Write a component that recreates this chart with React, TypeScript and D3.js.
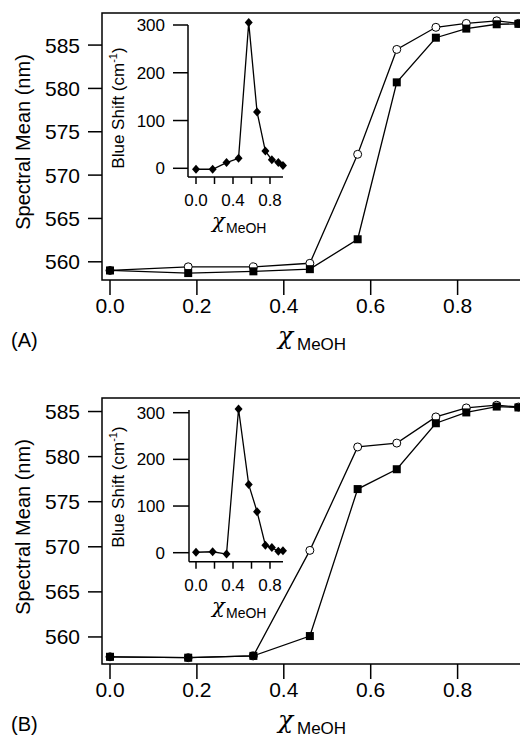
import React from 'react';
import * as d3 from 'd3';

const xValues = [0, 0.18, 0.33, 0.46, 0.57, 0.66, 0.75, 0.82, 0.89, 0.94];
const aCircles = [559.0, 559.42, 559.42, 559.83, 572.4, 584.5, 587.05, 587.5, 587.8, 587.5];
const aSquares = [559.0, 558.7, 558.9, 559.15, 562.6, 580.7, 585.85, 586.9, 587.4, 587.45];
const aInset = [-2, -2, 12, 21, 305, 118, 36, 18, 12, 6];
const bCircles = [557.8, 557.7, 557.9, 569.6, 581.07, 581.5, 584.4, 585.4, 585.7, 585.5];
const bSquares = [557.8, 557.7, 557.9, 560.1, 576.4, 578.6, 583.7, 584.9, 585.55, 585.45];
const bInset = [1, 2, -3, 308, 146, 88, 16, 11, 3, 4];

const mainXTicks = [0, 0.2, 0.4, 0.6, 0.8];
const mainYTicks = [560, 565, 570, 575, 580, 585];
const insetXTicks = [0, 0.2, 0.4, 0.6, 0.8];
const insetXLabels = [0, 0.4, 0.8];
const insetYTicks = [0, 100, 200, 300];

const FONT = "'Liberation Sans', Arial, Helvetica, sans-serif";
const GREEK = "'DejaVu Serif', 'Liberation Serif', serif";

type PanelProps = {
  top: number;
  bottom: number;
  yDomain: [number, number];
  circles: number[];
  squares: number[];
  inset: number[];
  insetTop: number;
  insetBottom: number;
  insetZeroY: number;
  insetTopY: number;
  insetAxisX: number;
  label: string;
  titleY: number;
  insetTitleY: number;
};

function Panel(p: PanelProps) {
  const x = d3.scaleLinear().domain([0, 1]).range([110, 544.5]);
  const y = d3.scaleLinear().domain(p.yDomain).range([p.bottom, p.top]);
  const ix = d3.scaleLinear().domain([0, 1]).range([196, 288.5]);
  const iy = d3.scaleLinear().domain([0, 300]).range([p.insetZeroY, p.insetTopY]);

  const line = d3.line<number>().x((_, i) => x(xValues[i])).y((d) => y(d));
  const iline = d3.line<number>().x((_, i) => ix(xValues[i])).y((d) => iy(d));
  const frameLeft = 102;
  const frameRight = 530;
  const sq = 8;
  const dm = 4;

  return (
    <g>
      <rect x={frameLeft} y={p.top} width={frameRight - frameLeft} height={p.bottom - p.top}
        fill="none" stroke="#000" strokeWidth={1.5} />
      {mainYTicks.map((t) => (
        <g key={'y' + t}>
          <line x1={88} x2={frameLeft} y1={y(t)} y2={y(t)} stroke="#000" strokeWidth={1.5} />
          <text x={80} y={y(t) + 7.5} textAnchor="end" fontSize={21} fontFamily={FONT}>{t}</text>
        </g>
      ))}
      {mainXTicks.map((t) => (
        <g key={'x' + t}>
          <line x1={x(t)} x2={x(t)} y1={p.bottom} y2={p.bottom + 15} stroke="#000" strokeWidth={1.5} />
          <text x={x(t)} y={p.bottom + 33} textAnchor="middle" fontSize={21} fontFamily={FONT}>{d3.format('.1f')(t)}</text>
        </g>
      ))}
      <text transform={`translate(30,${p.titleY}) rotate(-90)`} textAnchor="middle" fontSize={20} fontFamily={FONT}>
        Spectral Mean (nm)
      </text>
      <text x={278} y={p.bottom + 64} fontSize={25} fontStyle="italic" fontFamily={GREEK}>χ</text>
      <text x={297} y={p.bottom + 70} fontSize={17} fontFamily={FONT}>MeOH</text>
      <text x={11} y={p.bottom + 67} fontSize={20} fontFamily={FONT}>{p.label}</text>

      <path d={line(p.circles) || ''} fill="none" stroke="#000" strokeWidth={1.3} />
      <path d={line(p.squares) || ''} fill="none" stroke="#000" strokeWidth={1.3} />
      {p.circles.map((v, i) => (
        <circle key={'c' + i} cx={x(xValues[i])} cy={y(v)} r={4} fill="#fff" stroke="#000" strokeWidth={1} />
      ))}
      {p.squares.map((v, i) => (
        <rect key={'s' + i} x={x(xValues[i]) - sq / 2} y={y(v) - sq / 2} width={sq} height={sq} fill="#000" />
      ))}

      <line x1={p.insetAxisX} x2={p.insetAxisX} y1={p.insetTop} y2={p.insetBottom} stroke="#000" strokeWidth={1.5} />
      <line x1={p.insetAxisX} x2={283} y1={p.insetBottom} y2={p.insetBottom} stroke="#000" strokeWidth={1.5} />
      {insetYTicks.map((t) => (
        <g key={'iy' + t}>
          <line x1={173} x2={p.insetAxisX} y1={iy(t)} y2={iy(t)} stroke="#000" strokeWidth={1.5} />
          <text x={165} y={iy(t) + 6} textAnchor="end" fontSize={17} fontFamily={FONT}>{t}</text>
        </g>
      ))}
      {insetXTicks.map((t) => (
        <line key={'ix' + t} x1={ix(t)} x2={ix(t)} y1={p.insetBottom} y2={p.insetBottom + 7} stroke="#000" strokeWidth={1.5} />
      ))}
      {insetXLabels.map((t) => (
        <text key={'ixl' + t} x={ix(t)} y={p.insetBottom + 29} textAnchor="middle" fontSize={17} fontFamily={FONT}>
          {d3.format('.1f')(t)}
        </text>
      ))}
      <text transform={`translate(124,${p.insetTitleY}) rotate(-90)`} textAnchor="middle" fontSize={17} fontFamily={FONT}>
        <tspan>Blue Shift (cm</tspan>
        <tspan dy={-7} fontSize={11}>-1</tspan>
        <tspan dy={7}>)</tspan>
      </text>
      <text x={212} y={p.insetBottom + 51} fontSize={21} fontStyle="italic" fontFamily={GREEK}>χ</text>
      <text x={226} y={p.insetBottom + 56} fontSize={14} fontFamily={FONT}>MeOH</text>

      <path d={iline(p.inset) || ''} fill="none" stroke="#000" strokeWidth={1.3} />
      {p.inset.map((v, i) => {
        const cx = ix(xValues[i]);
        const cy = iy(v);
        return (
          <polygon key={'d' + i}
            points={`${cx},${cy - dm - 0.5} ${cx + dm},${cy} ${cx},${cy + dm + 0.5} ${cx - dm},${cy}`}
            fill="#000" />
        );
      })}
    </g>
  );
}

export default function App() {
  return (
    <svg width={520} height={738} style={{ position: 'absolute', left: 0, top: 0, background: '#fff' }}>
      <rect x={0} y={0} width={520} height={738} fill="#fff" />
      <Panel top={13} bottom={280} yDomain={[557.9, 588.7]} circles={aCircles} squares={aSquares}
        inset={aInset} insetTop={25} insetBottom={177} insetZeroY={168.3} insetTopY={25} insetAxisX={188}
        label="(A)" titleY={142} insetTitleY={108} />
      <Panel top={398} bottom={664} yDomain={[557.0, 586.5]} circles={bCircles} squares={bSquares}
        inset={bInset} insetTop={410} insetBottom={561.7} insetZeroY={552.7} insetTopY={412.7} insetAxisX={189}
        label="(B)" titleY={527} insetTitleY={487} />
    </svg>
  );
}
